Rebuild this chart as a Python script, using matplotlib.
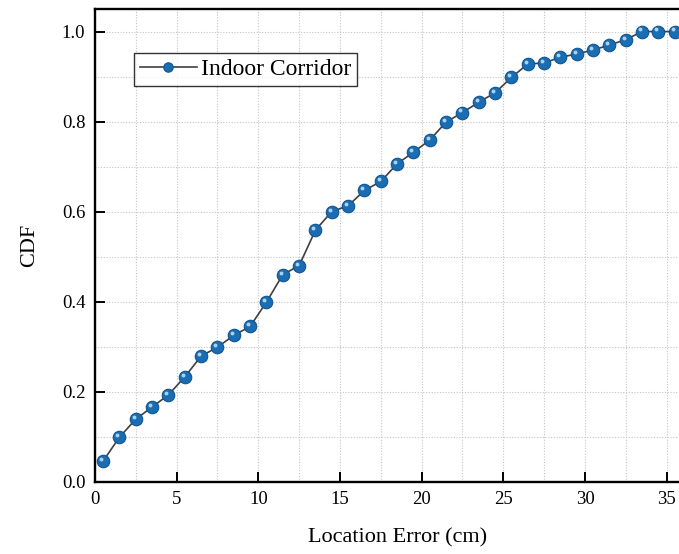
import numpy as np
import matplotlib
matplotlib.use('Agg')
import matplotlib.pyplot as plt
import matplotlib.transforms as mtransforms
from matplotlib.ticker import MultipleLocator

# Datos
error_cm = [0.5, 1.5, 2.5, 3.5, 4.5, 5.5, 6.5, 7.5, 8.5, 9.5,
            10.5, 11.5, 12.5, 13.5, 14.5, 15.5, 16.5, 17.5, 18.5, 19.5,
            20.5, 21.5, 22.5, 23.5, 24.5, 25.5, 26.5, 27.5, 28.5, 29.5,
            30.5, 31.5, 32.5, 33.5, 34.5, 35.5]
cdf = [0.046, 0.099, 0.139, 0.166, 0.193, 0.233, 0.279, 0.299, 0.325, 0.345,
       0.399, 0.460, 0.480, 0.559, 0.600, 0.613, 0.647, 0.667, 0.706, 0.732,
       0.759, 0.799, 0.820, 0.843, 0.864, 0.898, 0.928, 0.930, 0.943, 0.950,
       0.959, 0.970, 0.982, 1.000, 1.000, 1.000]
serie = 'Indoor Corridor'

plt.rcParams['font.family'] = ['Liberation Serif', 'DejaVu Serif']

fig = plt.figure(figsize=(6.79, 5.54), dpi=100)
# los ejes se salen por la derecha (la figura original está recortada)
ax = fig.add_axes([95 / 679, 72.3 / 554, 604.3 / 679, 472.7 / 554])

ax.plot(error_cm, cdf, color='#404040', lw=1.2, marker='o', ms=9,
        mfc='#1a6db3', mec='#0f5592', mew=0.8, label=serie, zorder=3)
# brillo de las esferas
brillo = mtransforms.offset_copy(ax.transData, fig=fig, x=-1.5, y=1.5, units='points')
ax.plot(error_cm, cdf, ls='none', marker='o', ms=2.8, mfc='#a9d2f2', mec='none',
        transform=brillo, zorder=4)

ax.set_xlim(0, 37)
ax.set_ylim(0, 1.05)
ax.xaxis.set_major_locator(MultipleLocator(5))
ax.xaxis.set_minor_locator(MultipleLocator(2.5))
ax.yaxis.set_major_locator(MultipleLocator(0.2))
ax.yaxis.set_minor_locator(MultipleLocator(0.1))
ax.set_yticks(np.arange(0, 1.01, 0.2))
ax.yaxis.set_major_formatter(matplotlib.ticker.FormatStrFormatter('%.1f'))

ax.grid(True, which='both', ls=(0, (1, 1.5)), color='#c4c4c4', lw=0.8)
ax.set_axisbelow(True)
ax.tick_params(which='major', direction='in', length=7, width=1.4, labelsize=13.5,
               pad=7, top=False, right=False)
ax.tick_params(which='minor', length=0)
for s in ax.spines.values():
    s.set_linewidth(1.7)

ax.set_xlabel('Location Error (cm)', fontsize=16, labelpad=14)
ax.set_ylabel('CDF', fontsize=16, labelpad=16)

leg = ax.legend(loc='upper left', bbox_to_anchor=(0.0645, 0.907), borderaxespad=0,
                fontsize=17, frameon=True, fancybox=False, handlelength=2.4,
                handletextpad=0.2, borderpad=0.25, markerscale=0.75)
leg.get_frame().set_edgecolor('black')
leg.get_frame().set_linewidth(1.0)

fig.savefig('out.png', dpi=100)
